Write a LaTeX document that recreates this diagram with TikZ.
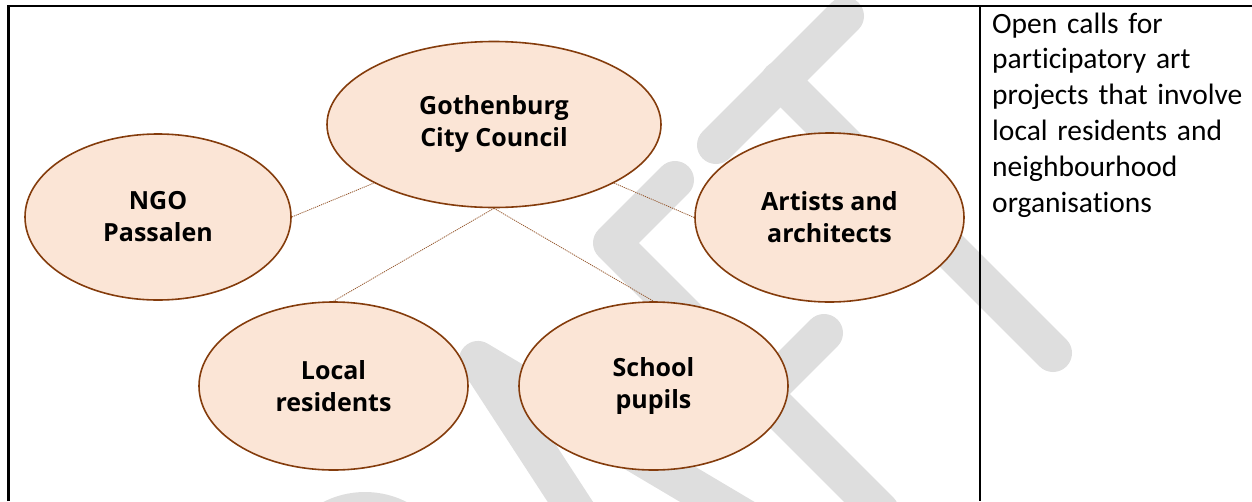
\documentclass[tikz,border=0pt]{standalone}
\usepackage{fontspec}
\setmainfont{Carlito}[Ligatures={NoCommon,NoContextual}, RawFeature={-liga;-clig;-dlig}]
\newfontfamily\ovalfont{Open Sans}
\usetikzlibrary{shapes.geometric}
\definecolor{ovalfill}{RGB}{251,229,214}
\definecolor{ovalline}{RGB}{132,60,12}
\definecolor{markgray}{RGB}{222,222,222}

\begin{document}
\begin{tikzpicture}[x=1pt,y=-1pt,
  ovalnode/.style={ellipse, draw=ovalline, line width=1.6pt, fill=ovalfill,
    inner sep=0pt, align=center,
    font=\ovalfont\bfseries\fontsize{25}{32}\selectfont},
  linkline/.style={draw=ovalline!85, line width=0.8pt,
    dash pattern=on 1.2pt off 0.9pt},
  tableline/.style={line width=2.2pt, black},
  markstroke/.style={draw=markgray, line width=38pt,
    line cap=round, line join=round}]

\useasboundingbox (0,0) rectangle (1252,501);

% faint watermark lettering in the background
\begin{scope}
  \clip (0,0) rectangle (1252,501);
  % T
  \draw[markstroke] (845,16) -- (716,145);
  \draw[markstroke] (780,80) -- (1053,353);
  % F
  \draw[markstroke] (675,180) -- (612,243) -- (880,511);
  \draw[markstroke] (767,390) -- (824,333);
  % A
  \draw[markstroke] (696,695) -- (478,360) -- (822,564);
  % bowl of R
  \draw[markstroke] (290,556) -- (314,532)
    .. controls (342,504) and (388,504) .. (416,532) -- (440,556);
\end{scope}

% stakeholder ovals
\node[ovalnode, minimum width=334pt, minimum height=166pt] (goth) at (494,124.5)
  {Gothenburg\\City Council};
\node[ovalnode, minimum width=266pt, minimum height=166pt] (ngo) at (158,217)
  {NGO\\Passalen};
\node[ovalnode, minimum width=269pt, minimum height=169pt] (artists) at (829.5,217.5)
  {Artists and\\architects};
\node[ovalnode, minimum width=269pt, minimum height=168pt] (local) at (333.5,386)
  {Local\\residents};
\node[ovalnode, minimum width=269pt, minimum height=168pt] (school) at (653.5,386)
  {School\\pupils};

% dotted links to the council
\draw[linkline] (ngo.east) -- (goth.206);
\draw[linkline] (artists.west) -- (goth.334);
\draw[linkline] (goth.south) -- (local.north);
\draw[linkline] (goth.south) -- (school.north);

% table rules
\draw[tableline] (8.5,501) -- (8.5,6) -- (1252,6);
\draw[tableline] (980.3,6) -- (980.3,501);

% description cell
\node[anchor=base west, align=left, inner sep=0pt, text width=258pt,
  font=\fontsize{29.5}{35.8}\selectfont] (calltext) at (992,33)
  {Open calls for\\participatory art\\projects that involve\\local residents and\\neighbourhood\\organisations};
\end{tikzpicture}
\end{document}
